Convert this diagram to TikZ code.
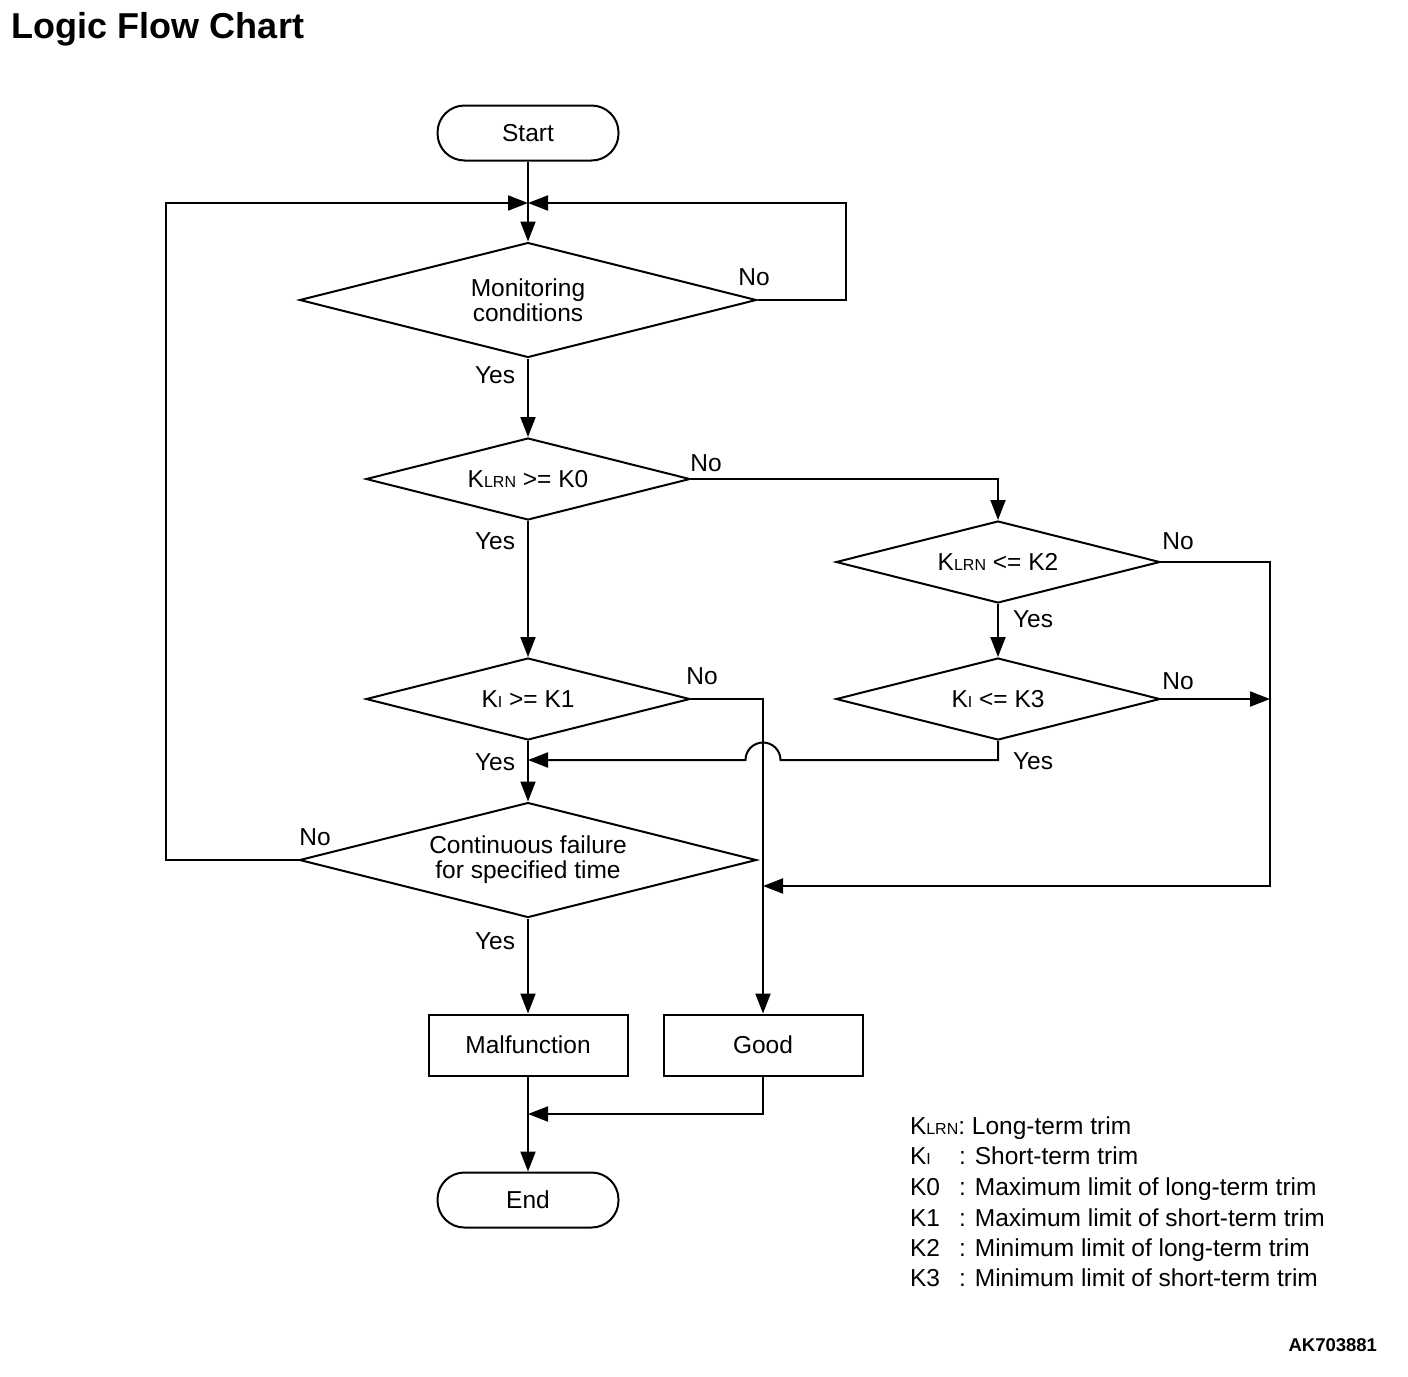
\documentclass[tikz,border=0pt]{standalone}
\usepackage{fontspec}
\setmainfont{Liberation Sans}
\usetikzlibrary{shapes.geometric,arrows.meta}
\newcommand\lsub[1]{{\fontsize{16}{16}\selectfont #1}}
\begin{document}
\begin{tikzpicture}[x=1pt,y=1pt,line width=2pt,
  every node/.style={font=\fontsize{24.5}{25}\selectfont, inner sep=0pt, align=center},
  arr/.style={-{Triangle[length=20pt,width=15pt]}},
  dbig/.style={draw, diamond, shape aspect=4, minimum width=457pt, minimum height=115pt},
  dsmall/.style={draw, diamond, shape aspect=4, minimum width=324pt, minimum height=82pt},
  term/.style={draw, rectangle, rounded corners=27pt, minimum width=181pt, minimum height=55pt},
  proc/.style={draw, rectangle, minimum width=199pt, minimum height=61pt},
  lbl/.style={},
  leg/.style={anchor=base west}]
\useasboundingbox (0,0) rectangle (1408,-1376);
\node[anchor=west, font=\fontsize{36}{40}\selectfont\bfseries] (title) at (11,-29) {Logic Flow Chart};

\node[term] (start) at (528,-133) {Start};
\node[dbig] (mon) at (528,-300) {Monitoring\\conditions};
\node[dsmall] (k0) at (528,-479) {K\lsub{LRN} >= K0};
\node[dsmall] (k1) at (528,-699) {K\lsub{I} >= K1};
\node[dsmall] (k2) at (998,-562) {K\lsub{LRN} <= K2};
\node[dsmall] (k3) at (998,-699) {K\lsub{I} <= K3};
\node[dbig] (cont) at (528,-860) {Continuous failure\\for specified time};
\node[proc] (mal) at (528,-1045) {Malfunction};
\node[proc] (good) at (763,-1045) {Good};
\node[term] (end) at (528,-1200) {End};

\coordinate (m1) at (528,-203);
\coordinate (rc) at (1270,-886);
\coordinate (g2) at (763,-886);
\coordinate (y3) at (528,-760);
\coordinate (j) at (528,-1114);

\draw[arr] (start.south) -- (mon.north);
\draw[arr] (mon.east) -- ++(88,0) |- (m1);
\draw[arr] (cont.west) -- ++(-133,0) |- (m1);
\draw[arr] (mon.south) -- (k0.north);
\draw[arr] (k0.east) -| (k2.north);
\draw[arr] (k0.south) -- (k1.north);
\draw[arr] (k1.east) -| (good.north);
\draw[arr] (k1.south) -- (cont.north);
\draw[arr] (k2.south) -- (k3.north);
\draw[arr] (k2.east) -| (rc) -- (g2);
\draw[arr] (k3.east) -- (k3.east -| rc);
\draw[arr] (k3.south) -- (998,-760) -- (780.5,-760) arc[start angle=0, end angle=180, radius=17.5] -- (y3);
\draw[arr] (cont.south) -- (mal.north);
\draw[arr] (good.south) |- (j);
\draw[arr] (mal.south) -- (end.north);

\node[lbl] (n1) at (754,-277) {No};
\node[lbl] (y1) at (495,-375) {Yes};
\node[lbl] (n2) at (706,-463) {No};
\node[lbl] (y2) at (495,-541) {Yes};
\node[lbl] (n3) at (1178,-541) {No};
\node[lbl] (y4) at (1033,-619) {Yes};
\node[lbl] (n4) at (702,-676) {No};
\node[lbl] (n5) at (1178,-681) {No};
\node[lbl] (y5) at (495,-762) {Yes};
\node[lbl] (y6) at (1033,-761) {Yes};
\node[lbl] (n6) at (315,-837) {No};
\node[lbl] (y7) at (495,-941) {Yes};

\node[leg] (l1) at (909,-1134) {K\lsub{LRN}: Long-term trim};
\node[leg] (l2) at (909,-1164) {K\lsub{I}};
\node[leg] (l2b) at (958,-1164) {: Short-term trim};
\node[leg] (l3) at (909,-1195) {K0};
\node[leg] (l3b) at (958,-1195) {: Maximum limit of long-term trim};
\node[leg] (l4) at (909,-1226) {K1};
\node[leg] (l4b) at (958,-1226) {: Maximum limit of short-term trim};
\node[leg] (l5) at (909,-1256) {K2};
\node[leg] (l5b) at (958,-1256) {: Minimum limit of long-term trim};
\node[leg] (l6) at (909,-1286) {K3};
\node[leg] (l6b) at (958,-1286) {: Minimum limit of short-term trim};

\node[anchor=east, font=\fontsize{18.5}{20}\selectfont\bfseries] (code) at (1378,-1345) {AK703881};
\end{tikzpicture}
\end{document}
